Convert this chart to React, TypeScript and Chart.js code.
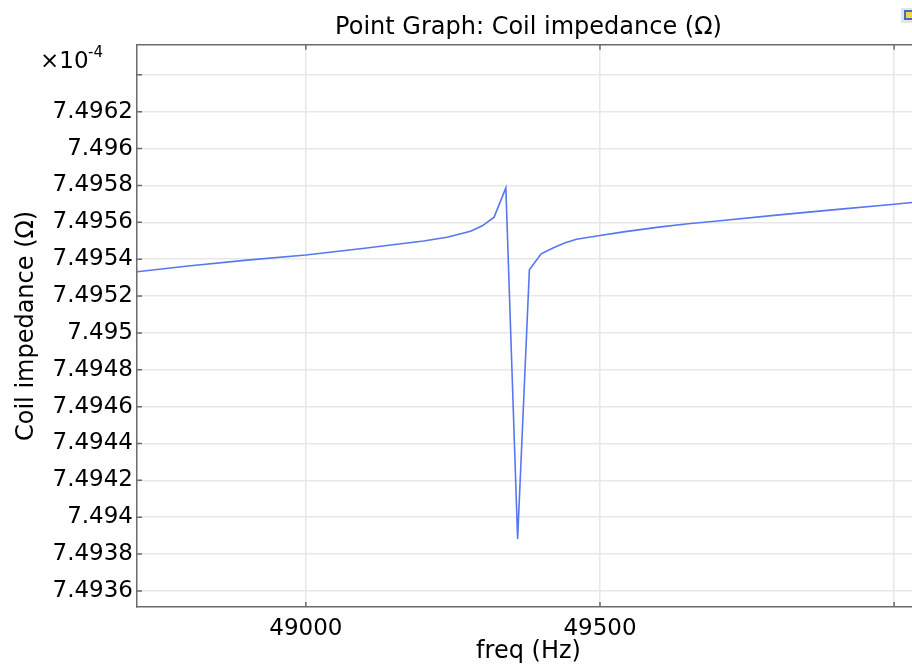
import React, { useEffect, useRef } from 'react';
import { Chart, registerables } from 'chart.js';

Chart.register(...registerables);

// Data (impedance shown in units of 1e-4 Ω, as on the axis)
const freqHz = [48700, 48800, 48900, 49000, 49100, 49200, 49240, 49260, 49280, 49300, 49320, 49340, 49360, 49380, 49400, 49420, 49440, 49460, 49500, 49540, 49600, 49650, 49700, 49800, 49900, 50000, 50060];
const impedance = [7.495327, 7.495363, 7.495395, 7.495423, 7.495459, 7.495499, 7.495519, 7.495535, 7.495551, 7.495581, 7.495628, 7.495787, 7.493882, 7.495342, 7.495429, 7.495461, 7.495488, 7.495508, 7.495528, 7.495548, 7.495574, 7.495592, 7.495607, 7.495639, 7.495669, 7.495698, 7.495716];

const xTickValues = [49000, 49500, 50000];
const xLabelValues = [49000, 49500]; // 50000 sits at the clipped right edge and has no label
const yTickValues = [7.4936, 7.4938, 7.494, 7.4942, 7.4944, 7.4946, 7.4948, 7.495, 7.4952, 7.4954, 7.4956, 7.4958, 7.496, 7.4962, 7.4964];
const yLabelMax = 7.4963; // the top tick (7.4964) carries no label

const titleText = 'Point Graph: Coil impedance (Ω)';
const xTitle = 'freq (Hz)';
const yTitle = 'Coil impedance (Ω)';
const xMin = 48713;
const xMax = 50044;
const yMin = 7.493513;
const yMax = 7.496563;

const FONT = 'DejaVu Sans';
const AXIS_COLOR = '#6b6b6b';
const GRID_COLOR = '#e8e8e8';

const framePlugin = {
  id: 'frame',
  afterDraw(chart: any) {
    const { ctx, chartArea } = chart;
    const xs = chart.scales.x;
    const ys = chart.scales.y;
    ctx.save();
    ctx.strokeStyle = AXIS_COLOR;
    ctx.lineWidth = 1.5;
    // top border
    ctx.beginPath();
    ctx.moveTo(chartArea.left, chartArea.top);
    ctx.lineTo(chartArea.right, chartArea.top);
    ctx.stroke();
    // inner tick marks
    ctx.beginPath();
    for (const t of ys.ticks) {
      const py = ys.getPixelForValue(t.value);
      ctx.moveTo(chartArea.left, py);
      ctx.lineTo(chartArea.left + 5, py);
    }
    for (const t of xs.ticks) {
      const px = xs.getPixelForValue(t.value);
      ctx.moveTo(px, chartArea.bottom);
      ctx.lineTo(px, chartArea.bottom - 5);
      ctx.moveTo(px, chartArea.top);
      ctx.lineTo(px, chartArea.top + 5);
    }
    ctx.stroke();
    // multiplier text
    ctx.fillStyle = '#000';
    ctx.textBaseline = 'alphabetic';
    ctx.textAlign = 'left';
    ctx.font = `23px "${FONT}"`;
    ctx.fillText('×10', 40, 68);
    ctx.font = `15px "${FONT}"`;
    ctx.fillText('-4', 88, 57);
    // small toolbar icon at the top right
    ctx.fillStyle = '#e4e4e4';
    ctx.fillRect(901, 8, 13, 15);
    ctx.fillStyle = '#3a6fc4';
    ctx.fillRect(904, 10, 10, 10);
    ctx.fillStyle = '#f3d34a';
    ctx.fillRect(906, 12, 7, 6);
    ctx.restore();
  },
};

export default function App() {
  const canvasRef = useRef<HTMLCanvasElement | null>(null);

  useEffect(() => {
    const canvas = canvasRef.current;
    if (!canvas) return;
    Chart.defaults.font.family = FONT;
    const points = freqHz.map((f, i) => ({ x: f, y: impedance[i] }));
    const chart = new Chart(canvas, {
      type: 'line',
      data: {
        datasets: [
          {
            data: points,
            borderColor: 'rgb(88, 118, 240)',
            borderWidth: 1.6,
            pointRadius: 0,
            tension: 0,
            fill: false,
          },
        ],
      },
      options: {
        responsive: false,
        animation: false,
        devicePixelRatio: 1,
        layout: { padding: { left: 0, right: 20, top: 0, bottom: 0 } },
        plugins: {
          legend: { display: false },
          tooltip: { enabled: false },
          title: {
            display: true,
            fullSize: false,
            text: titleText,
            color: '#000',
            font: { family: FONT, size: 24, weight: 'normal' },
            padding: { top: 13, bottom: 3 },
          },
        },
        scales: {
          x: {
            type: 'linear',
            min: xMin,
            max: xMax,
            afterBuildTicks: (s: any) => {
              s.ticks = xTickValues.map((v) => ({ value: v }));
            },
            ticks: {
              autoSkip: false,
              maxRotation: 0,
              color: '#000',
              padding: 8,
              font: { family: FONT, size: 23 },
              callback: (v: any) => (xLabelValues.includes(Number(v)) ? String(v) : ''),
            },
            grid: { color: GRID_COLOR, lineWidth: 1.5, drawTicks: false },
            border: { display: true, color: AXIS_COLOR, width: 1.5 },
            title: {
              display: true,
              text: xTitle,
              color: '#000',
              font: { family: FONT, size: 24 },
              padding: { top: 0, bottom: 0 },
            },
            afterFit: (s: any) => {
              s.height = 59;
            },
          },
          y: {
            type: 'linear',
            min: yMin,
            max: yMax,
            afterBuildTicks: (s: any) => {
              s.ticks = yTickValues.map((v) => ({ value: v }));
            },
            ticks: {
              autoSkip: false,
              color: '#000',
              padding: 4,
              font: { family: FONT, size: 23 },
              callback: (v: any) => (v > yLabelMax ? '' : String(Number(Number(v).toFixed(4)))),
            },
            grid: { color: GRID_COLOR, lineWidth: 1.5, drawTicks: false },
            border: { display: true, color: AXIS_COLOR, width: 1.5 },
            title: {
              display: true,
              text: yTitle,
              color: '#000',
              font: { family: FONT, size: 24 },
              padding: { top: 12, bottom: 0 },
            },
            afterFit: (s: any) => {
              s.width = 137;
            },
          },
        },
      },
      plugins: [framePlugin],
    });
    return () => chart.destroy();
  }, []);

  return (
    <div
      style={{
        position: 'fixed',
        left: 0,
        top: 0,
        width: 912,
        height: 666,
        overflow: 'hidden',
        background: '#fff',
      }}
    >
      <canvas ref={canvasRef} width={940} height={666} style={{ display: 'block' }} />
    </div>
  );
}
